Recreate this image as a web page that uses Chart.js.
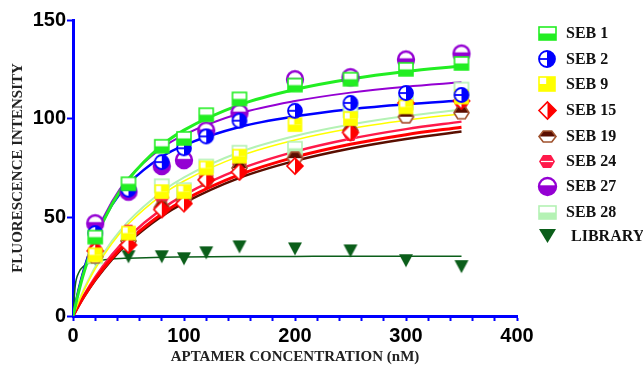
<!DOCTYPE html>
<html><head><meta charset="utf-8">
<script src="https://cdn.jsdelivr.net/npm/chart.js@4.4.0/dist/chart.umd.min.js"></script>
<style>html,body{margin:0;padding:0;background:#fff;}#wrap{width:643px;height:369px;}</style>
</head><body><div id="wrap"><canvas id="c" width="643" height="369"></canvas></div>
<script>
// ---- data ----
const seriesNames = ['SEB 1','SEB 2','SEB 9','SEB 15','SEB 19','SEB 24','SEB 27','SEB 28','LIBRARY'];
const concentrations = [20, 50, 80, 100, 120, 150, 200, 250, 300, 350];
const seb1   = [40, 67, 86, 90, 102, 110, 117, 120, 125, 128];
const seb2   = [42, 64, 78, 85, 91, 99, 104, 108, 113, 112];
const seb9   = [31, 42, 63, 63, 75, 81, 97, 100, 106, 111];
const seb15  = [33, 36, 54, 57, 69, 73, 76, 93, 108, 109];
const seb19  = [30, 38, 55, 59, 69, 75, 80, 94, 101, 103];
const seb24  = [34, 43, 60, 58, 71, 77, 80, 92, 101, 108];
const seb27  = [47, 63, 76, 79, 94, 103, 120, 121, 130, 133];
const seb28  = [30, 40, 66, 64, 76, 83, 85, 104, 108, 115];
const library= [29, 30, 30, 29, 32, 35, 34, 33, 28, 25];

// fitted curves at these concentrations
const fitX      = [0, 5, 10, 20, 35, 50, 80, 100, 150, 200, 250, 300, 350];
const fitSeb1   = [0, 12.0, 22.3, 38.7, 56.5, 69.3, 86.5, 94.2, 107.0, 114.8, 120.1, 123.9, 126.7];
const fitSeb2   = [0, 13.3, 23.9, 40.0, 56.2, 67.0, 80.7, 86.5, 95.8, 101.2, 104.8, 107.3, 109.2];
const fitSeb9   = [0, 7.0, 13.2, 23.9, 36.7, 46.7, 61.3, 68.4, 81.0, 89.2, 95.0, 99.2, 102.5];
const fitSeb15  = [0, 5.2, 10.0, 18.6, 29.3, 38.1, 51.7, 58.7, 71.6, 80.5, 87.0, 91.9, 95.7];
const fitSeb19  = [0, 5.1, 9.8, 18.1, 28.6, 37.2, 50.5, 57.3, 70.0, 78.6, 84.9, 89.7, 93.5];
const fitSeb24  = [0, 5.6, 10.7, 19.7, 31.0, 40.1, 54.2, 61.3, 74.4, 83.3, 89.8, 94.7, 98.5];
const fitSeb27  = [0, 13.1, 23.9, 40.6, 57.9, 69.8, 85.1, 91.8, 102.6, 108.9, 113.2, 116.2, 118.4];
const fitSeb28  = [0, 7.2, 13.7, 24.8, 37.9, 48.1, 63.0, 70.3, 83.0, 91.2, 97.0, 101.3, 104.6];
const libFitX   = [0, 2, 5, 10, 20, 35, 50, 80, 100, 150, 200, 250, 300, 350];
const fitLibrary= [0, 15.3, 21.8, 25.4, 27.7, 28.9, 29.3, 29.8, 29.9, 30.1, 30.2, 30.3, 30.3, 30.3];

const xTickLabels = [0, 100, 200, 300, 400];
const yTickLabels = [0, 50, 100, 150];

// ---- styles ----
const colors = ['#22ee22','#0000ff','#ffff00','#ff0000','#5a0e00','#ff1a4a','#9400d3','#b4f2b4','#0b5e1a'];
const kinds  = ['sqBottom','circRight','sqYellow','diaRight','hexTop','hexFull','circBottom','sqBottom','triDown'];
const lineW  = [3, 2.5, 1.5, 3, 2.5, 2.5, 2, 2, 1.5];

function marker(kind, color, w, h) {
  const pad = 3;
  const c = document.createElement('canvas');
  c.width = Math.ceil(w + pad*2); c.height = Math.ceil(h + pad*2);
  const g = c.getContext('2d');
  const cx = c.width/2, cy = c.height/2, rx = w/2, ry = h/2;
  g.lineWidth = 1.6; g.strokeStyle = color; g.fillStyle = color;
  g.lineJoin = 'miter';
  if (kind === 'sqBottom' || kind === 'sqYellow') {
    g.fillStyle = '#fff'; g.fillRect(cx-rx, cy-ry, w, h);
    g.fillStyle = color; g.fillRect(cx-rx, cy, w, ry);
    g.strokeRect(cx-rx, cy-ry, w, h);
    if (kind === 'sqYellow') { g.beginPath(); g.moveTo(cx, cy-ry); g.lineTo(cx, cy); g.stroke(); g.fillRect(cx, cy-ry, rx, ry); }
  } else if (kind === 'circRight' || kind === 'circBottom') {
    const r = Math.min(rx, ry);
    g.fillStyle = '#fff'; g.beginPath(); g.arc(cx, cy, r, 0, Math.PI*2); g.fill();
    g.fillStyle = color; g.beginPath();
    if (kind === 'circRight') { g.moveTo(cx, cy); g.arc(cx, cy, r, -Math.PI/2, Math.PI/2); }
    else { g.moveTo(cx, cy); g.arc(cx, cy, r, 0, Math.PI); }
    g.closePath(); g.fill();
    g.lineWidth = kind === 'circBottom' ? 2.4 : 1.8;
    g.beginPath(); g.arc(cx, cy, r, 0, Math.PI*2); g.stroke();
    g.beginPath(); g.moveTo(cx-r, cy); g.lineTo(cx+r, cy); g.stroke();
  } else if (kind === 'diaRight') {
    g.fillStyle = '#fff';
    g.beginPath(); g.moveTo(cx, cy-ry); g.lineTo(cx+rx, cy); g.lineTo(cx, cy+ry); g.lineTo(cx-rx, cy); g.closePath(); g.fill();
    g.fillStyle = color;
    g.beginPath(); g.moveTo(cx, cy-ry); g.lineTo(cx+rx, cy); g.lineTo(cx, cy+ry); g.closePath(); g.fill();
    g.beginPath(); g.moveTo(cx, cy-ry); g.lineTo(cx+rx, cy); g.lineTo(cx, cy+ry); g.lineTo(cx-rx, cy); g.closePath(); g.stroke();
  } else if (kind === 'hexTop' || kind === 'hexFull') {
    const pts = [[cx+rx, cy],[cx+rx/2, cy-ry],[cx-rx/2, cy-ry],[cx-rx, cy],[cx-rx/2, cy+ry],[cx+rx/2, cy+ry]];
    g.fillStyle = '#fff'; g.beginPath(); pts.forEach((p,i)=> i?g.lineTo(p[0],p[1]):g.moveTo(p[0],p[1])); g.closePath(); g.fill();
    g.fillStyle = color;
    if (kind === 'hexTop') {
      g.beginPath(); [pts[0],pts[1],pts[2],pts[3]].forEach((p,i)=> i?g.lineTo(p[0],p[1]):g.moveTo(p[0],p[1])); g.closePath(); g.fill();
      g.strokeStyle = '#a0522d';
      g.beginPath(); pts.forEach((p,i)=> i?g.lineTo(p[0],p[1]):g.moveTo(p[0],p[1])); g.closePath(); g.stroke();
    } else {
      g.beginPath(); pts.forEach((p,i)=> i?g.lineTo(p[0],p[1]):g.moveTo(p[0],p[1])); g.closePath(); g.fill();
      g.strokeStyle = '#fff'; g.lineWidth = 1.2; g.beginPath(); g.moveTo(cx-rx+2, cy); g.lineTo(cx+rx-2, cy); g.stroke();
    }
  } else if (kind === 'triDown') {
    g.beginPath(); g.moveTo(cx-rx, cy-ry); g.lineTo(cx+rx, cy-ry); g.lineTo(cx, cy+ry); g.closePath(); g.fill();
  }
  return c;
}

const dataSize = { sqBottom:[14,13], sqYellow:[13,13], circRight:[14,14], circBottom:[16,16], diaRight:[16,16], hexTop:[15,12], hexFull:[15,13], triDown:[14,13] };
const legSize  = { sqBottom:[17,13], sqYellow:[16,14], circRight:[16,16], circBottom:[17,17], diaRight:[17,17], hexTop:[17,11], hexFull:[16,13], triDown:[17,14] };
const dataMarkers = kinds.map((k,i)=> marker(k, colors[i], dataSize[k][0], dataSize[k][1]));
const legMarkers  = kinds.map((k,i)=> marker(k, colors[i], legSize[k][0], legSize[k][1]));

const pointSeries = [seb1, seb2, seb9, seb15, seb19, seb24, seb27, seb28, library];
const fitSeries   = [fitSeb1, fitSeb2, fitSeb9, fitSeb15, fitSeb19, fitSeb24, fitSeb27, fitSeb28, fitLibrary];

const datasets = [];
pointSeries.forEach((arr, i) => {
  datasets.push({
    type: 'scatter', label: seriesNames[i],
    data: concentrations.map((x, j) => ({x, y: arr[j]})),
    pointStyle: dataMarkers[i], pointRadius: 7, pointHoverRadius: 7,
    showLine: false, order: 1
  });
});
fitSeries.forEach((arr, i) => {
  const xs = i === 8 ? libFitX : fitX;
  datasets.push({
    type: 'line', label: seriesNames[i] + ' fit',
    data: xs.map((x, j) => ({x, y: arr[j]})),
    borderColor: colors[i], borderWidth: lineW[i], pointRadius: 0,
    cubicInterpolationMode: 'monotone', fill: false, order: 2
  });
});

const legendPlugin = {
  id: 'customLegend',
  afterDraw(chart) {
    const ctx = chart.ctx;
    const ys = [33, 59, 84, 110, 136, 161, 186, 212, 236];
    ctx.save();
    ctx.font = 'bold 16px "Liberation Serif", "Times New Roman", serif';
    ctx.fillStyle = '#111';
    ctx.textBaseline = 'middle';
    seriesNames.forEach((n, i) => {
      const m = legMarkers[i];
      ctx.drawImage(m, Math.round(547 - m.width/2), Math.round(ys[i] - m.height/2));
      ctx.fillText(n, i === 8 ? 571 : 566, ys[i] + 1);
    });
    ctx.restore();
  }
};

new Chart(document.getElementById('c'), {
  data: { datasets },
  options: {
    responsive: false, devicePixelRatio: 1, animation: false,
    layout: { padding: { left: 0, right: 126, top: 20, bottom: 0 } },
    plugins: { legend: { display: false }, tooltip: { enabled: false } },
    scales: {
      x: {
        type: 'linear', min: 0, max: 400,
        afterFit(s) { s.height = 53; },
        ticks: { stepSize: 20, autoSkip: false, maxRotation: 0, padding: 3, color: '#000',
          font: { family: '"Liberation Sans", Arial, sans-serif', size: 20, weight: 'bold' },
          callback: v => xTickLabels.includes(v) ? String(v) : '' },
        grid: { drawOnChartArea: false, drawTicks: true, tickLength: 5, tickColor: '#0000ff', tickWidth: 2 },
        border: { color: '#0000ff', width: 3 },
        title: { display: true, text: 'APTAMER CONCENTRATION (nM)', color: '#222',
          font: { family: '"Liberation Serif", "Times New Roman", serif', size: 15, weight: 'bold' },
          padding: { top: 0, bottom: 3 } }
      },
      y: {
        type: 'linear', min: 0, max: 150,
        afterFit(s) { s.width = 73; },
        ticks: { stepSize: 50, padding: 1, color: '#000',
          font: { family: '"Liberation Sans", Arial, sans-serif', size: 20, weight: 'bold' },
          callback: v => yTickLabels.includes(v) ? String(v) : '' },
        grid: { drawOnChartArea: false, drawTicks: true, tickLength: 6, tickColor: '#0000ff', tickWidth: 2 },
        border: { color: '#0000ff', width: 3 },
        title: { display: true, text: 'FLUORESCENCE INTENSITY', color: '#222',
          font: { family: '"Liberation Serif", "Times New Roman", serif', size: 15, weight: 'bold' },
          padding: { top: 9, bottom: 0 } }
      }
    }
  },
  plugins: [legendPlugin]
});
</script></body></html>
